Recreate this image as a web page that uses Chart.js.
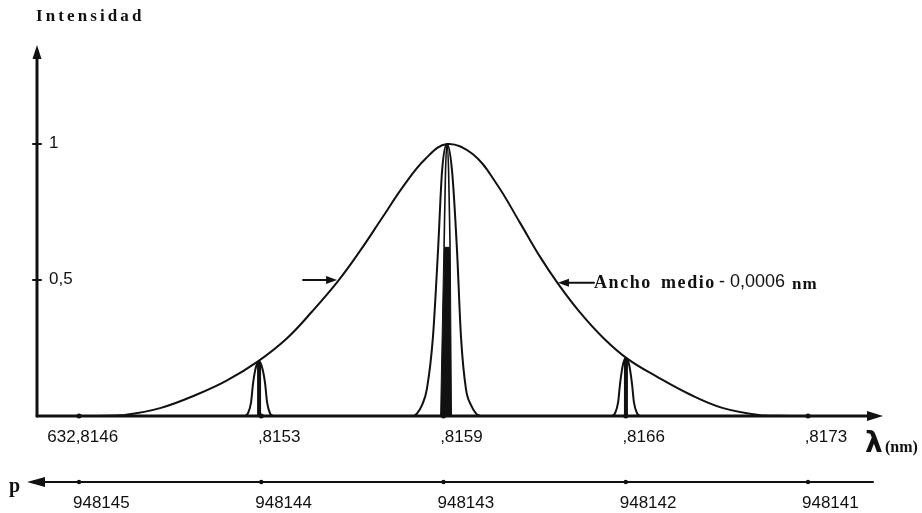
<!DOCTYPE html>
<html>
<head>
<meta charset="utf-8">
<script src="https://cdn.jsdelivr.net/npm/chart.js@4"></script>
<style>
  body { margin: 0; background: #fff; }
  #wrap { width: 922px; height: 513px; }
</style>
</head>
<body>
<div id="wrap"><canvas id="modesChart"></canvas></div>
<script>
// tick labels (axis positions 0..4 = neighbouring modes)
const tickPos = [0, 1, 2, 3, 4];
const lambdaTicks = ["632,8146", ",8153", ",8159", ",8166", ",8173"];
const pTicks = ["948145", "948144", "948143", "948142", "948141"];
const yTickVals = [1, 0.5];
const yTickText = ["1", "0,5"];

// gain envelope
const envX = [0.10, 0.25, 0.45, 0.65, 0.81, 0.98, 1.14, 1.28, 1.42, 1.54, 1.66, 1.78, 1.90, 2.02,
              2.16, 2.29, 2.42, 2.53, 2.63, 2.75, 2.88, 3.01, 3.17, 3.35, 3.53, 3.74, 3.90];
const envY = [0, 0.004, 0.03, 0.08, 0.13, 0.20, 0.285, 0.385, 0.495, 0.605, 0.725, 0.845, 0.945, 1.0,
              0.963, 0.855, 0.71, 0.585, 0.485, 0.38, 0.285, 0.21, 0.145, 0.08, 0.03, 0.003, 0];

// central mode
const cOuterX = [1.838, 1.855, 1.882, 1.909, 1.942, 1.970, 1.992, 2.019, 2.047, 2.074, 2.096, 2.123, 2.151, 2.178, 2.200];
const cOuterY = [0, 0.01, 0.04, 0.10, 0.29, 0.61, 0.90, 1.0, 0.90, 0.61, 0.29, 0.10, 0.04, 0.01, 0];
const cCoreX = [1.984, 2.002, 2.037, 2.044];
const cCoreY = [0, 0.62, 0.62, 0];
const cInnerX = [2.003, 2.011, 2.019, 2.028, 2.036];
const cInnerY = [0.62, 0.90, 1.0, 0.90, 0.62];

// side modes
const lOuterX = [0.911, 0.927, 0.944, 0.955, 0.971, 0.988, 1.004, 1.021, 1.032, 1.048, 1.065];
const lOuterY = [0, 0.01, 0.05, 0.12, 0.18, 0.20, 0.18, 0.12, 0.05, 0.01, 0];
const rOuterX = [2.925, 2.941, 2.958, 2.969, 2.985, 3.001, 3.018, 3.034, 3.045, 3.062, 3.078];
const rOuterY = [0, 0.01, 0.05, 0.12, 0.19, 0.213, 0.19, 0.12, 0.05, 0.01, 0];
const sideCoreX = [0.988, 3.001];
const sideCoreTop = [0.20, 0.213];

// half-width markers
const halfX = [1.416, 2.628];
const halfY = [0.50, 0.49];

const pts = (xs, ys) => xs.map((x, i) => ({ x, y: ys[i] }));

function lineSet(data, width, extra) {
    return Object.assign({
        data,
        showLine: true,
        borderColor: "#111",
        borderWidth: width,
        pointRadius: 0,
        cubicInterpolationMode: "monotone",
        fill: false
    }, extra || {});
}

const SANS = '"Liberation Sans", Arial, sans-serif';
const SERIF = '"Liberation Serif", "Times New Roman", serif';

function arrowHead(ctx, x, y, dir, len, half) {
    // dir: angle in radians the arrow points to
    ctx.save();
    ctx.translate(x, y);
    ctx.rotate(dir);
    ctx.beginPath();
    ctx.moveTo(0, 0);
    ctx.lineTo(-len, -half);
    ctx.lineTo(-len, half);
    ctx.closePath();
    ctx.fill();
    ctx.restore();
}

function spaced(ctx, text, x, y, gap) {
    for (const ch of text) {
        ctx.fillText(ch, x, y);
        x += ctx.measureText(ch).width + gap;
    }
    return x;
}

const drawing = {
    id: "drawing",
    afterDraw(chart) {
        const ctx = chart.ctx;
        const xs = chart.scales.x, ys = chart.scales.y;
        const area = chart.chartArea;
        const x0 = area.left, yBase = ys.getPixelForValue(0);
        ctx.save();
        ctx.fillStyle = "#111";
        ctx.strokeStyle = "#111";
        ctx.lineCap = "round";

        // vertical axis
        ctx.lineWidth = 3;
        ctx.beginPath();
        ctx.moveTo(x0, yBase);
        ctx.lineTo(x0, area.top + 10);
        ctx.stroke();
        arrowHead(ctx, x0, area.top, -Math.PI / 2, 14, 4.5);

        // horizontal axis
        ctx.beginPath();
        ctx.moveTo(x0, yBase);
        ctx.lineTo(area.right - 12, yBase);
        ctx.stroke();
        arrowHead(ctx, area.right, yBase, 0, 16, 5);

        // y ticks + labels
        ctx.lineWidth = 2;
        ctx.font = "17px " + SANS;
        ctx.textBaseline = "middle";
        ctx.textAlign = "left";
        yTickVals.forEach((v, i) => {
            const py = ys.getPixelForValue(v);
            ctx.beginPath();
            ctx.moveTo(x0 - 4, py);
            ctx.lineTo(x0 + 4, py);
            ctx.stroke();
            ctx.fillText(yTickText[i], x0 + 12, py - 1);
        });

        // x ticks: comma sits on the tick
        tickPos.forEach((t, i) => {
            const px = xs.getPixelForValue(t);
            ctx.beginPath();
            ctx.arc(px, yBase, 2.5, 0, Math.PI * 2);
            ctx.fill();
            const label = lambdaTicks[i];
            const c = label.indexOf(",");
            const pre = ctx.measureText(label.slice(0, c)).width;
            const cw = ctx.measureText(",").width;
            ctx.fillText(label, px - pre - cw / 2 - 1, yBase + 21);
        });

        // lambda label
        ctx.font = "bold 28px \"DejaVu Sans\", sans-serif";
        ctx.textBaseline = "alphabetic";
        ctx.fillText("\u03bb", area.right - 18, yBase + 36);
        ctx.font = "bold 16px " + SERIF;
        ctx.fillText("(nm)", area.right + 2, yBase + 36);

        // p axis (mode number), arrow pointing left
        const yP = yBase + 66;
        ctx.lineWidth = 2;
        ctx.beginPath();
        ctx.moveTo(x0 + 8, yP);
        ctx.lineTo(area.right - 10, yP);
        ctx.stroke();
        arrowHead(ctx, x0 - 10, yP, Math.PI, 18, 5);
        ctx.font = "17px " + SANS;
        ctx.textBaseline = "middle";
        tickPos.forEach((t, i) => {
            const px = xs.getPixelForValue(t);
            ctx.beginPath();
            ctx.arc(px, yP, 2.2, 0, Math.PI * 2);
            ctx.fill();
            ctx.fillText(pTicks[i], px - 6, yP + 21);
        });
        ctx.font = "bold 20px " + SERIF;
        ctx.fillText("p", 9, yP + 5);

        // title
        ctx.font = "bold 17px " + SERIF;
        spaced(ctx, "Intensidad", 36, 17, 3.1);

        // half-width arrows
        ctx.lineWidth = 2;
        const lx = xs.getPixelForValue(halfX[0]), ly = ys.getPixelForValue(halfY[0]);
        ctx.beginPath();
        ctx.moveTo(lx - 34, ly);
        ctx.lineTo(lx - 8, ly);
        ctx.stroke();
        arrowHead(ctx, lx, ly, 0, 11, 4);
        const rx = xs.getPixelForValue(halfX[1]), ry = ys.getPixelForValue(halfY[1]);
        ctx.beginPath();
        ctx.moveTo(rx + 36, ry);
        ctx.lineTo(rx + 8, ry);
        ctx.stroke();
        arrowHead(ctx, rx, ry, Math.PI, 11, 4);

        // annotation text
        ctx.font = "bold 18px " + SERIF;
        let wx = spaced(ctx, "Ancho", rx + 36, ry + 1, 1.6);
        wx = spaced(ctx, "medio", wx + 9, ry + 1, 1.6);
        ctx.font = "18px " + SANS;
        ctx.fillText("- 0,0006", wx + 3, ry - 1);
        wx += 3 + ctx.measureText("- 0,0006").width + 7;
        ctx.font = "bold 17px " + SERIF;
        spaced(ctx, "nm", wx, ry + 2, 1);

        ctx.restore();
    }
};

new Chart(document.getElementById("modesChart"), {
    type: "scatter",
    data: {
        datasets: [
            lineSet(pts(envX, envY), 2, { cubicInterpolationMode: "default", tension: 0.4 }),
            lineSet(pts(cOuterX, cOuterY), 2),
            lineSet(pts(cCoreX, cCoreY), 1, { cubicInterpolationMode: "default", tension: 0, fill: "origin", backgroundColor: "#111" }),
            lineSet(pts(cInnerX, cInnerY), 1.6),
            lineSet(pts(lOuterX, lOuterY), 2),
            lineSet(pts(rOuterX, rOuterY), 2),
            lineSet([{ x: sideCoreX[0], y: 0 }, { x: sideCoreX[0], y: sideCoreTop[0] }], 4, { cubicInterpolationMode: "default" }),
            lineSet([{ x: sideCoreX[1], y: 0 }, { x: sideCoreX[1], y: sideCoreTop[1] }], 4, { cubicInterpolationMode: "default" })
        ]
    },
    options: {
        responsive: true,
        maintainAspectRatio: false,
        animation: false,
        layout: { padding: { left: 37, right: 39, top: 45, bottom: 97 } },
        plugins: { legend: { display: false }, tooltip: { enabled: false } },
        scales: {
            x: { type: "linear", min: -0.2305, max: 4.4115, display: false },
            y: { type: "linear", min: 0, max: 1.364, display: false }
        }
    },
    plugins: [drawing]
});
</script>
</body>
</html>
